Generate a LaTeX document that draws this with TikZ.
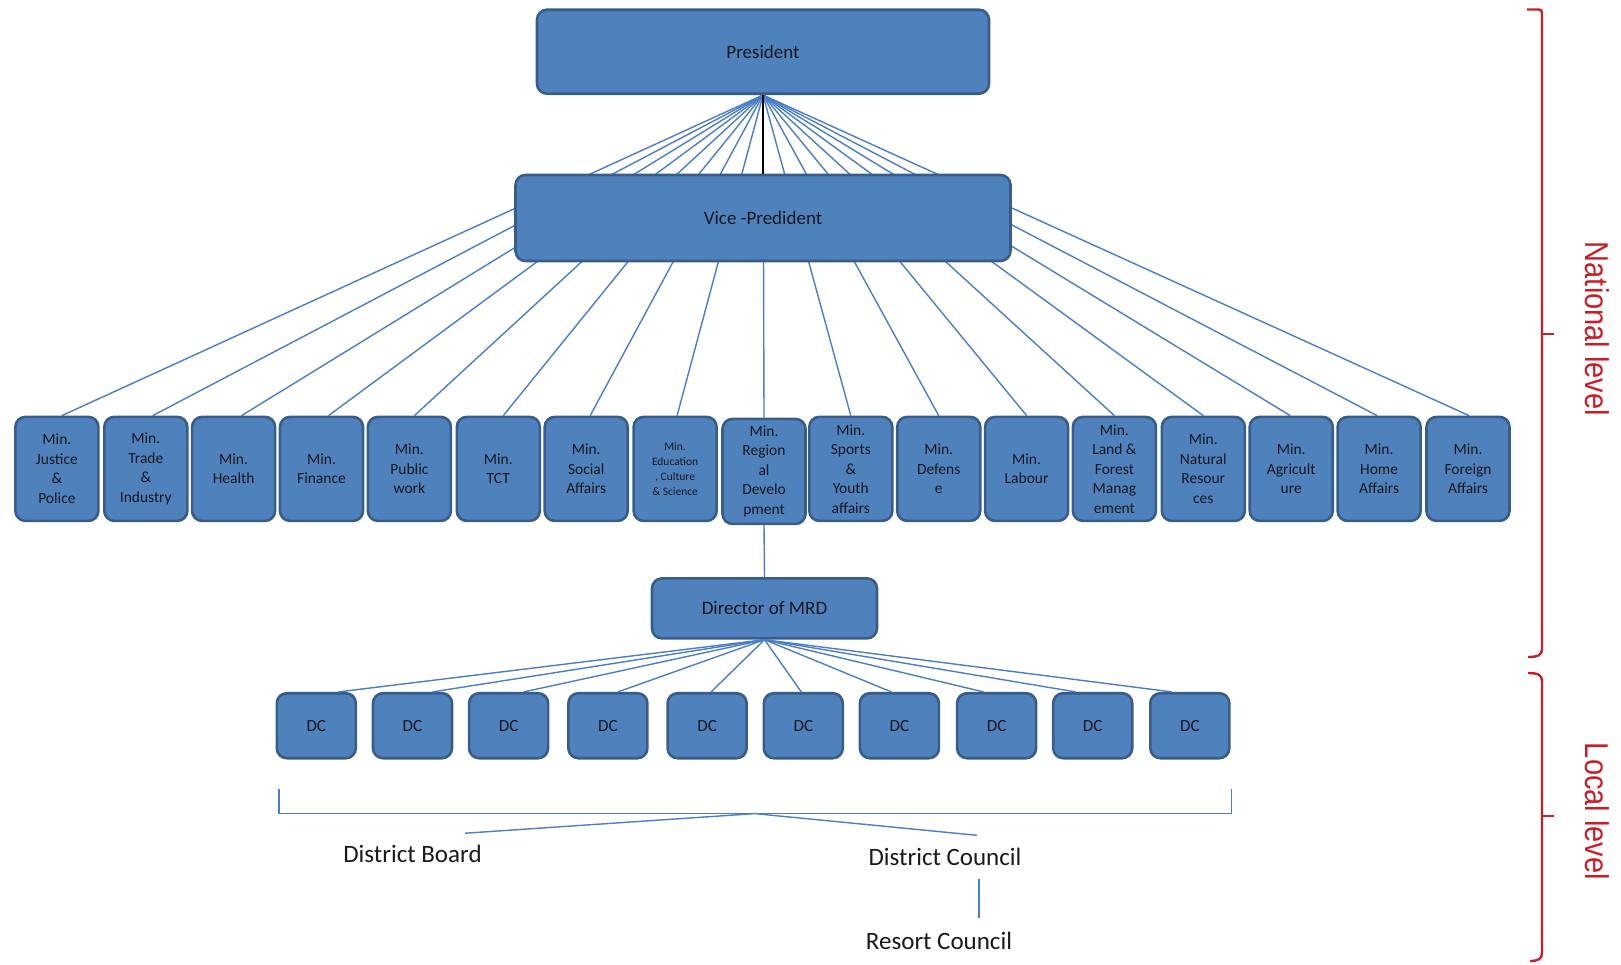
\documentclass[tikz,border=0pt]{standalone}
\usepackage{fontspec}
\setmainfont{Carlito}
\newfontfamily\levelfont[FakeStretch=0.88]{Liberation Sans}
\definecolor{boxfill}{RGB}{79,129,189}
\definecolor{boxline}{RGB}{56,93,138}
\definecolor{linkblue}{RGB}{74,126,200}
\definecolor{levelred}{RGB}{200,30,40}
\definecolor{txt}{RGB}{25,25,30}
\pgfdeclarelayer{bg}
\pgfsetlayers{bg,main}
\begin{document}
\begin{tikzpicture}[x=1pt,y=-1pt,
  box/.style={draw=boxline, fill=boxfill, line width=2.6pt, rounded corners=10pt,
    text=txt, inner sep=0pt, align=center},
  bigbox/.style={box, font=\fontsize{19}{23}\selectfont},
  minbox/.style={box, minimum width=83pt, minimum height=104pt,
    font=\fontsize{15.5}{19.5}\selectfont},
  dcbox/.style={box, minimum width=79pt, minimum height=65pt,
    font=\fontsize{17}{20}\selectfont},
  link/.style={draw=linkblue, line width=1.4pt},
  lbl/.style={font=\fontsize{25}{30}\selectfont, text=txt, inner sep=0pt},
  brace/.style={draw=levelred, line width=2.4pt},
  level/.style={font=\levelfont\fontsize{33}{36}\selectfont, text=levelred,
    rotate=-90, inner sep=0pt}
]
\useasboundingbox (0,0) rectangle (1621,964);

% top of the hierarchy
\node[bigbox, minimum width=452pt, minimum height=84pt] (pres) at (763,51.7) {President};
\node[bigbox, minimum width=495pt, minimum height=86pt] (vp) at (763,218) {Vice -Predident};

% ministries
\node[minbox] (m1)  at (56.9,468.9)   {Min.\\Justice\\\&\\Police};
\node[minbox] (m2)  at (145.8,468.9)  {Min.\\Trade\\\&\\Industry};
\node[minbox] (m3)  at (233.6,468.9)  {Min.\\Health};
\node[minbox] (m4)  at (321.5,468.9)  {Min.\\Finance};
\node[minbox] (m5)  at (409.4,468.9)  {Min.\\Public\\work};
\node[minbox] (m6)  at (498.3,468.9)  {Min.\\TCT};
\node[minbox] (m7)  at (586.2,468.9)  {Min.\\Social\\Affairs};
\node[minbox, font=\fontsize{11.5}{15}\selectfont] (m8) at (675.1,468.9)
  {Min.\\Education\\, Culture\\\& Science};
\node[minbox, minimum height=105pt] (m9) at (764,471.4)
  {Min.\\Region\\al\\Develo\\pment};
\node[minbox] (m10) at (850.8,468.9)  {Min.\\Sports\\\&\\Youth\\affairs};
\node[minbox] (m11) at (938.7,468.9)  {Min.\\Defens\\e};
\node[minbox] (m12) at (1026.6,468.9) {Min.\\Labour};
\node[minbox] (m13) at (1114.4,468.9) {Min.\\Land \&\\Forest\\Manag\\ement};
\node[minbox] (m14) at (1203.3,468.9) {Min.\\Natural\\Resour\\ces};
\node[minbox] (m15) at (1291.2,468.9) {Min.\\Agricult\\ure};
\node[minbox] (m16) at (1379.1,468.9) {Min.\\Home\\Affairs};
\node[minbox] (m17) at (1468.0,468.9) {Min.\\Foreign\\Affairs};

% regional level
\node[bigbox, minimum width=225pt, minimum height=60pt] (dir) at (764.5,608.4) {Director of MRD};
\foreach \x [count=\i] in {316.3,412.5,508.6,607.9,707.1,803.3,899.4,996.6,1092.7,1189.8}
  \node[dcbox] (dc\i) at (\x,725.7) {DC};

% connectors from the president run behind the boxes
\begin{pgfonlayer}{bg}
  \foreach \i/\dx in {1/5,2/7,3/8,4/7,5/5,6/5,7/4,8/2,9/0,10/0,11/0,12/0,13/0,14/0,15/-1,16/-2,17/1}
    \draw[link] (pres.south) -- ([xshift=\dx pt]m\i.north);
\end{pgfonlayer}
\draw[black, line width=1.8pt] (pres.south) -- (vp.north);
\draw[link] (m9.south) -- (dir.north);
\foreach \i/\dx in {1/22,2/20,3/15,4/10,5/4,6/-2,7/-8,8/-13,9/-17,10/-18}
  \draw[link] (dir.south) -- ([xshift=\dx pt]dc\i.north);

% local bodies under the district councils
\coordinate (bl) at (279.1,788.8);
\coordinate (br) at (1231.3,788.8);
\coordinate (bm) at (754.7,813.6);
\draw[link] (bl) |- (bm) -| (br);
\node[lbl] (board) at (412.5,854) {District Board};
\node[lbl] (council) at (945,857) {District Council};
\node[lbl] (resort) at (939,941) {Resort Council};
\coordinate (boardtip) at (465.2,833.2);
\coordinate (counciltip) at (976.9,835.3);
\coordinate (cdrop) at (979,878.7);
\coordinate (rtop) at (979,918);
\draw[link] (bm) -- (boardtip);
\draw[link] (bm) -- (counciltip);
\draw[link] (cdrop) -- (rtop);

% level braces
\draw[brace] (1527,9.5) -- (1539,9.5) .. controls (1541,9.5) and (1542,11) .. (1542,13)
  -- (1542,649) .. controls (1542,655) and (1538,657) .. (1528,657);
\draw[brace] (1542,334) -- (1554,334);
\draw[brace] (1528,673) .. controls (1538,673) and (1542,675) .. (1542,681)
  -- (1542,953) .. controls (1542,959) and (1538,961) .. (1530,961);
\draw[brace] (1542,816) -- (1554,816);
\node[level] (natl) at (1597,329) {National level};
\node[level] (locl) at (1597,811.5) {Local level};
\end{tikzpicture}
\end{document}
